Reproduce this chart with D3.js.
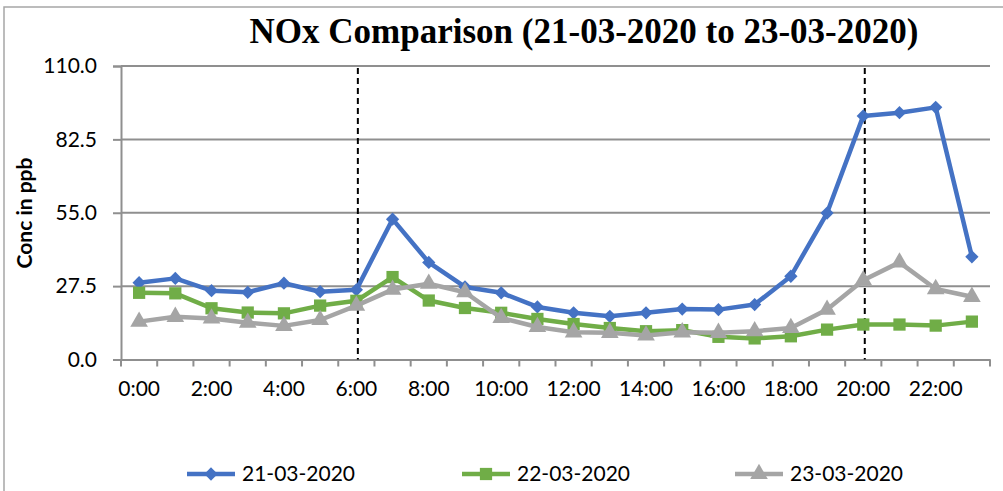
<!DOCTYPE html>
<html>
<head>
<meta charset="utf-8">
<script src="https://cdn.jsdelivr.net/npm/d3@7"></script>
<style>
body { margin: 0; background: #fff; }
svg { display: block; }
</style>
</head>
<body>
<svg id="chart" width="1003" height="491"></svg>
<script>
var hours = ["0:00","1:00","2:00","3:00","4:00","5:00","6:00","7:00","8:00","9:00","10:00","11:00",
    "12:00","13:00","14:00","15:00","16:00","17:00","18:00","19:00","20:00","21:00","22:00","23:00"];
var yTicks = [0, 27.5, 55, 82.5, 110];
var markerHours = ["6:00", "20:00"];

var day21 = [28.8, 30.4, 25.8, 25.2, 28.6, 25.4, 26.1, 52.6, 36.4, 27.2, 25.0, 19.7,
    17.5, 16.2, 17.5, 18.9, 18.7, 20.6, 31.2, 54.9, 91.3, 92.5, 94.5, 38.5];
var day22 = [25.0, 24.8, 19.2, 17.6, 17.3, 20.2, 22.0, 30.9, 22.1, 19.3, 17.5, 15.2,
    13.3, 11.8, 10.6, 11.0, 8.5, 7.9, 8.7, 11.2, 13.1, 13.1, 12.7, 14.2];
var day23 = [14.2, 16.0, 15.4, 13.8, 12.6, 14.8, 20.2, 26.2, 28.4, 25.2, 15.6, 12.2,
    10.2, 10.0, 9.0, 10.2, 10.0, 10.6, 11.8, 18.7, 29.7, 36.4, 26.4, 23.5];

var seriesNames = ["21-03-2020", "22-03-2020", "23-03-2020"];
var seriesColors = ["#4472C4", "#70AD47", "#A5A5A5"];
var seriesValues = [day21, day22, day23];

// marker per series: diamond is a square turned 45 degrees
var markers = [
    { type: d3.symbolSquare, size: 88, rotate: 45 },
    { type: d3.symbolSquare, size: 150, rotate: 0 },
    { type: d3.symbolTriangle, size: 135, rotate: 0 }
];

var svg = d3.select("#chart");
var labelFont = "Lato, 'Open Sans', sans-serif";

// chart frame (runs past the right and bottom edge like the original crop)
svg.append("rect").attr("x", 4).attr("y", 7).attr("width", 1100).attr("height", 600)
    .attr("fill", "none").attr("stroke", "#a6a6a6").attr("stroke-width", 1.5);

var x = d3.scaleBand().domain(hours).range([121, 990]).padding(0);
var y = d3.scaleLinear().domain([0, 110]).range([359.5, 66]);

// horizontal grid
svg.append("g").selectAll("line").data(yTicks.filter(function(d) { return d > 0; })).enter().append("line")
    .attr("x1", 121).attr("x2", 990)
    .attr("y1", function(d) { return y(d); }).attr("y2", function(d) { return y(d); })
    .attr("stroke", "#8f8f8f").attr("stroke-width", 2);

// y axis
var yAxis = svg.append("g").attr("transform", "translate(121,0)")
    .call(d3.axisLeft(y).tickValues(yTicks).tickFormat(d3.format(".1f")).tickSize(8).tickPadding(16));
yAxis.select(".domain").attr("stroke", "#8f8f8f").attr("stroke-width", 2);
yAxis.selectAll(".tick line").attr("stroke", "#8f8f8f").attr("stroke-width", 2);
yAxis.selectAll(".tick text").attr("font-family", labelFont).attr("font-size", 21).attr("fill", "#000");

// x axis: labels on even hours, tick marks between categories
var xAxis = svg.append("g").attr("transform", "translate(0," + y(0) + ")")
    .call(d3.axisBottom(x).tickSize(0).tickPadding(22).tickFormat(function(d, i) { return i % 2 == 0 ? d : ""; }));
xAxis.select(".domain").attr("stroke", "#8f8f8f").attr("stroke-width", 2);
xAxis.selectAll(".tick text").attr("font-family", labelFont).attr("font-size", 21).attr("fill", "#000");
svg.append("g").selectAll("line").data(hours.concat(["end"])).enter().append("line")
    .attr("x1", function(d) { return d == "end" ? 990 : x(d); })
    .attr("x2", function(d) { return d == "end" ? 990 : x(d); })
    .attr("y1", y(0)).attr("y2", y(0) + 7)
    .attr("stroke", "#8f8f8f").attr("stroke-width", 2);

// dashed markers
svg.append("g").selectAll("line").data(markerHours).enter().append("line")
    .attr("x1", function(d) { return x(d) + x.bandwidth() / 2 + 1.5; })
    .attr("x2", function(d) { return x(d) + x.bandwidth() / 2 + 1.5; })
    .attr("y1", y(110) + 2).attr("y2", y(0))
    .attr("stroke", "#000").attr("stroke-width", 2).attr("stroke-dasharray", "6,4");

// series
var line = d3.line()
    .x(function(d, i) { return x(hours[i]) + x.bandwidth() / 2; })
    .y(function(d) { return y(d); });

function markerPath(k) {
    return d3.symbol().type(markers[k].type).size(markers[k].size)();
}

seriesValues.forEach(function(vals, k) {
    var g = svg.append("g");
    g.append("path").datum(vals).attr("d", line)
        .attr("fill", "none").attr("stroke", seriesColors[k]).attr("stroke-width", 4.5)
        .attr("stroke-linejoin", "round");
    g.selectAll("path.pt").data(vals).enter().append("path").classed("pt", true)
        .attr("d", markerPath(k))
        .attr("transform", function(d, i) {
            return "translate(" + (x(hours[i]) + x.bandwidth() / 2) + "," + y(d) + ") rotate(" + markers[k].rotate + ")";
        })
        .attr("fill", seriesColors[k]);
});

// title
svg.append("text").attr("x", 584).attr("y", 43).attr("text-anchor", "middle")
    .attr("font-family", "'Liberation Serif', 'Times New Roman', serif").attr("font-weight", "bold")
    .attr("font-size", 35).text("NOx Comparison (21-03-2020 to 23-03-2020)");

// y axis title
svg.append("text").attr("transform", "translate(32,213) rotate(-90)").attr("text-anchor", "middle")
    .attr("font-family", labelFont).attr("font-weight", "bold").attr("font-size", 21)
    .text("Conc in ppb");

// legend
var legendX = [187, 462, 735];
var legend = svg.append("g").selectAll("g").data(seriesNames).enter().append("g")
    .attr("transform", function(d, i) { return "translate(" + legendX[i] + ",474)"; });
legend.append("line").attr("x1", 0).attr("x2", 48).attr("y1", 0).attr("y2", 0)
    .attr("stroke", function(d, i) { return seriesColors[i]; }).attr("stroke-width", 4.5);
legend.append("path")
    .attr("d", function(d, i) { return markerPath(i); })
    .attr("transform", function(d, i) { return "translate(24,0) rotate(" + markers[i].rotate + ")"; })
    .attr("fill", function(d, i) { return seriesColors[i]; });
legend.append("text").attr("x", 55).attr("y", 0).attr("dy", "0.35em")
    .attr("font-family", labelFont).attr("font-size", 21).text(function(d) { return d; });
</script>
</body>
</html>
